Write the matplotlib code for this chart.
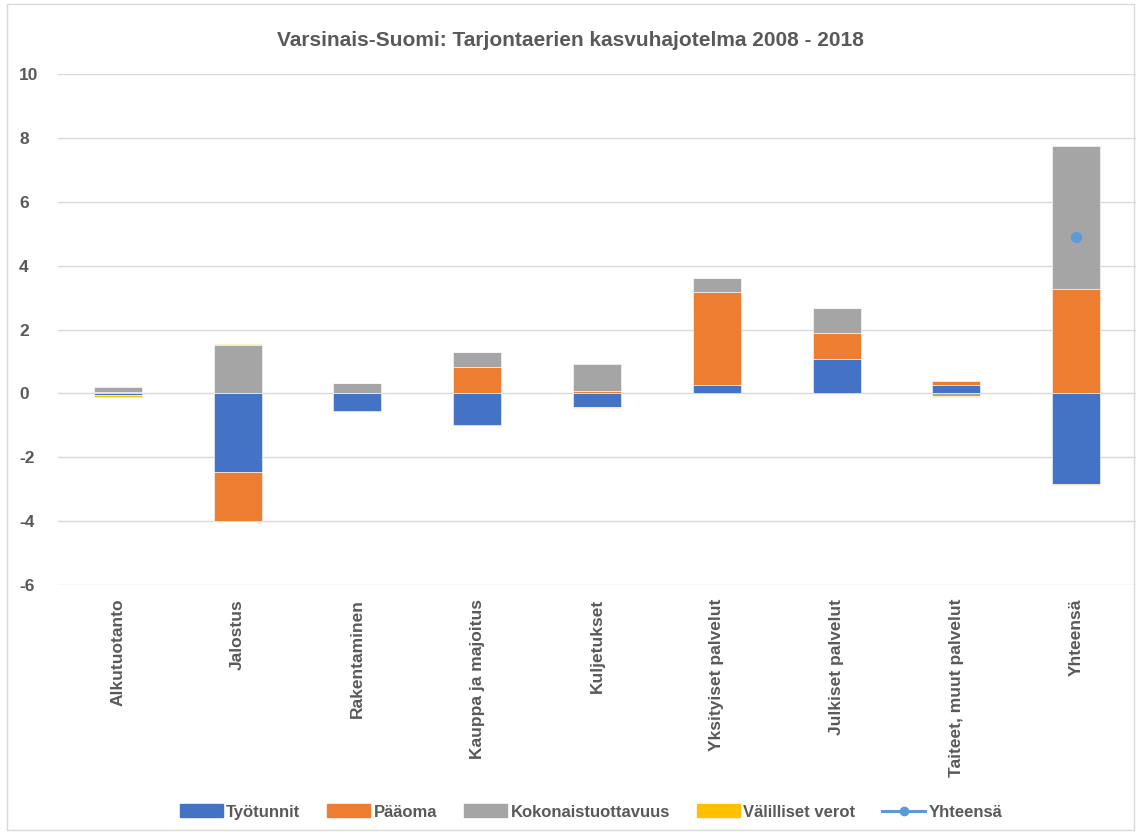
import numpy as np
import matplotlib.pyplot as plt
from matplotlib.lines import Line2D
from matplotlib.patches import Patch

plt.rcParams['font.family'] = ['Liberation Sans', 'DejaVu Sans']
plt.rcParams['axes.unicode_minus'] = False

# --- data ---
categories = ["Alkutuotanto", "Jalostus", "Rakentaminen", "Kauppa ja majoitus",
              "Kuljetukset", "Yksityiset palvelut", "Julkiset palvelut",
              "Taiteet, muut palvelut", "Yhteensä"]
tyotunnit = [-0.05, -2.47, -0.55, -1.00, -0.43, 0.27, 1.07, 0.27, -2.83]
paaoma = [0.03, -1.53, 0.02, 0.82, 0.07, 2.90, 0.81, 0.12, 3.27]
kokonais = [0.17, 1.53, 0.30, 0.48, 0.85, 0.45, 0.80, -0.07, 4.49]
valilliset = [-0.05, 0.03, 0.00, 0.00, -0.02, 0.00, 0.00, -0.03, -0.05]
yhteensa = [np.nan] * 8 + [4.9]

series = [("Työtunnit", tyotunnit, "#4472C4"),
          ("Pääoma", paaoma, "#ED7D31"),
          ("Kokonaistuottavuus", kokonais, "#A5A5A5"),
          ("Välilliset verot", valilliset, "#FFC000")]

txt = "#595959"
fig = plt.figure(figsize=(11.41, 8.34), dpi=100)
ax = fig.add_axes([58 / 1141, 1 - 585 / 834, (1136 - 58) / 1141, 511 / 834])

x = np.arange(len(categories))
pos_base = np.zeros(len(categories))
neg_base = np.zeros(len(categories))
for name, vals, col in series:
    vals = np.array(vals)
    bottom = np.where(vals >= 0, pos_base, neg_base)
    ax.bar(x, vals, 0.4, bottom=bottom, color=col, edgecolor="white", linewidth=0.4, zorder=3)
    pos_base += np.where(vals >= 0, vals, 0)
    neg_base += np.where(vals < 0, vals, 0)

ax.plot(x, yhteensa, "-o", color="#5B9BD5", markersize=7, linewidth=2.2, zorder=4)

ax.set_xlim(-0.5, len(categories) - 0.5)
ax.set_ylim(-6, 10)
ax.set_yticks(np.arange(-6, 11, 2))
ax.grid(axis="y", color="#D9D9D9", linewidth=1, zorder=0)
for s in ax.spines.values():
    s.set_visible(False)
ax.tick_params(length=0)
ax.set_xticks(x)
ax.set_xticklabels(categories, rotation=90, fontsize=12.5, fontweight="bold", color=txt)
ax.tick_params(axis="x", pad=10)
ax.tick_params(axis="y", pad=28)
for lab in ax.get_yticklabels():
    lab.set_fontsize(12.5)
    lab.set_fontweight("bold")
    lab.set_color(txt)
    lab.set_horizontalalignment("left")

fig.text(0.5, 1 - 40 / 834, "Varsinais-Suomi: Tarjontaerien kasvuhajotelma 2008 - 2018",
         ha="center", va="center", fontsize=15, fontweight="bold", color=txt)

handles = [Patch(color=c, label=n) for n, _, c in series]
handles.append(Line2D([0], [0], color="#5B9BD5", marker="o", markersize=6, linewidth=2.2, label="Yhteensä"))
fig.legend(handles=handles, loc="center", bbox_to_anchor=(0.518, 1 - 812 / 834), ncol=5,
           frameon=False, prop={"size": 12, "weight": "bold"}, labelcolor=txt,
           handlelength=2.6, handleheight=0.8, handletextpad=0.2, columnspacing=1.6)

border = plt.Rectangle((7 / 1141, 0.005), 1 - 14 / 1141, 0.99, transform=fig.transFigure,
                       fill=False, edgecolor="#D9D9D9", linewidth=1)
fig.add_artist(border)

fig.savefig("out.png", dpi=100)
